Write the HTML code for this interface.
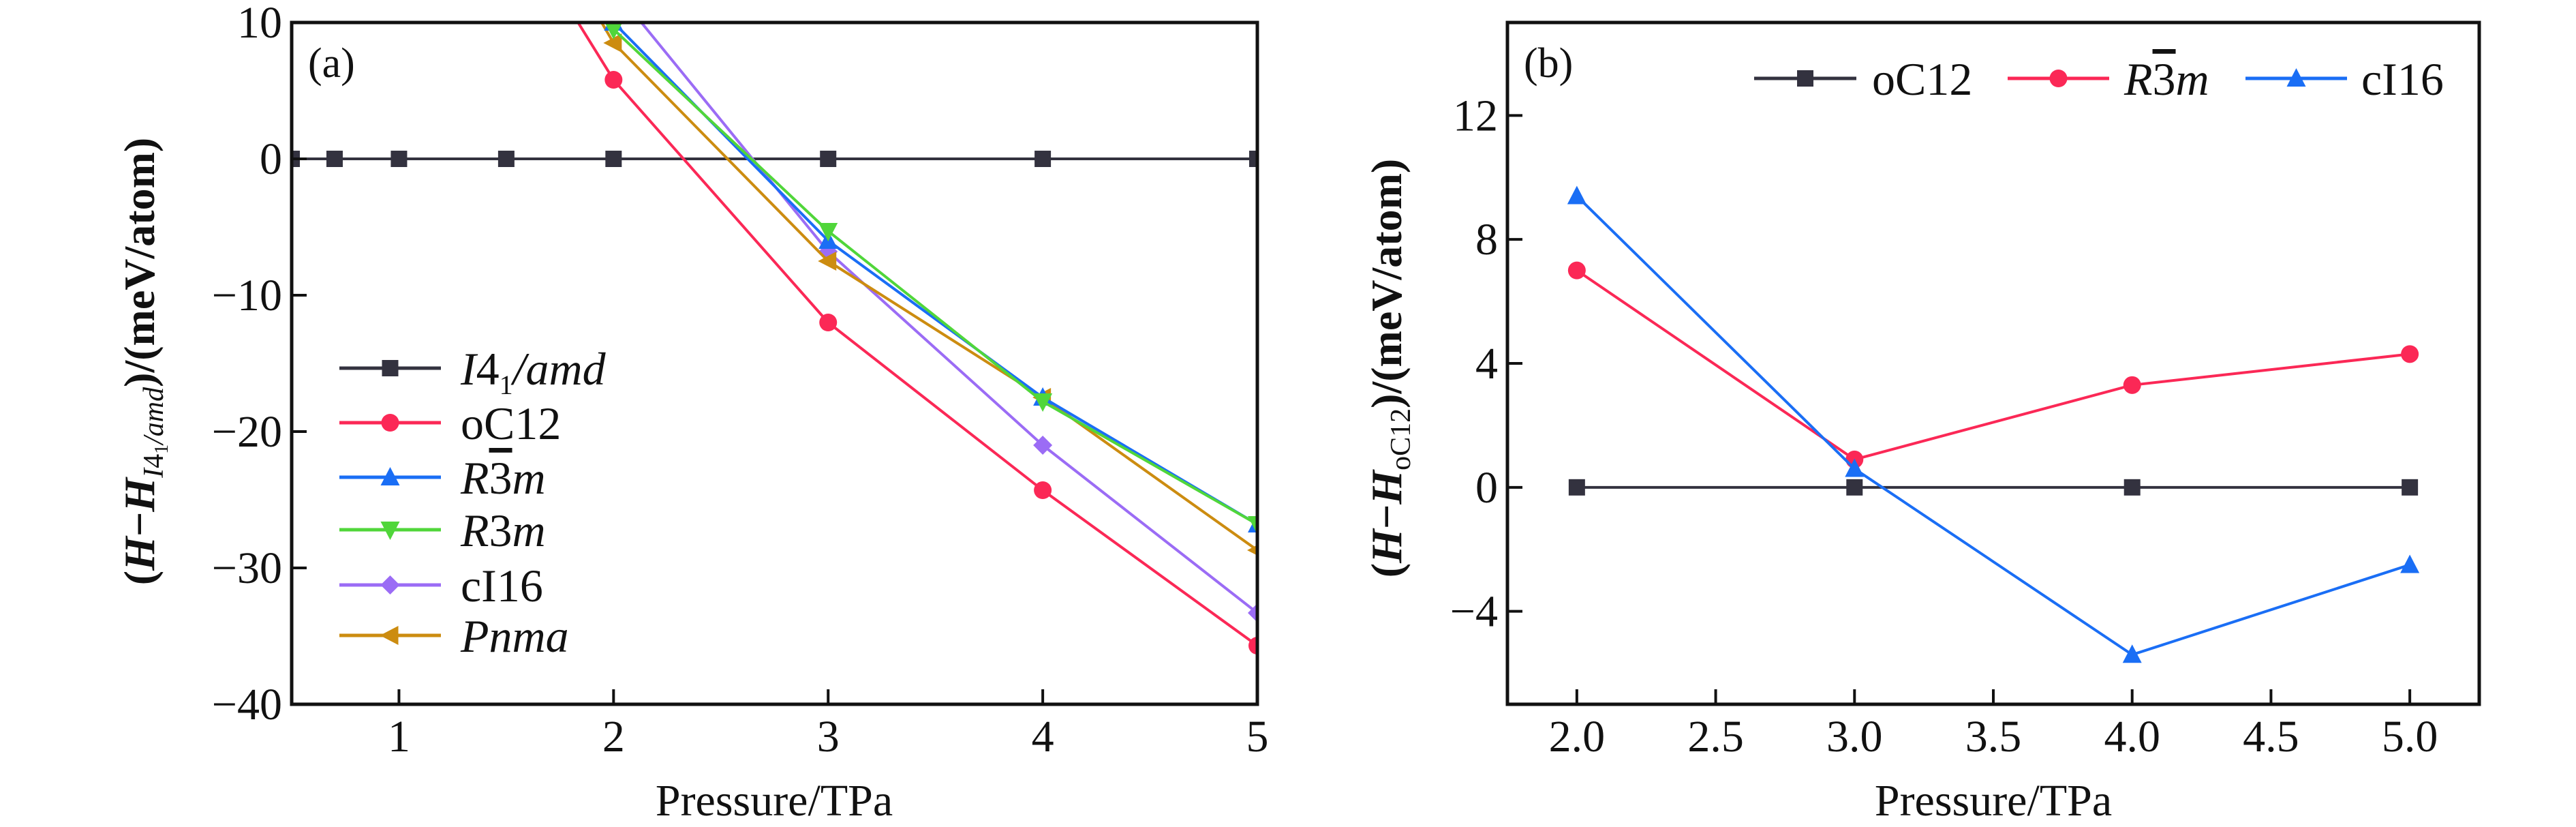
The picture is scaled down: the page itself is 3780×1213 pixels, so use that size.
<!DOCTYPE html>
<html><head><meta charset="utf-8">
<style>
html,body{margin:0;padding:0;background:#fff;}
svg{display:block;font-family:"Liberation Serif",serif;}
</style></head>
<body>
<svg id="fig" width="3780" height="1213" viewBox="0 0 3780 1213" xmlns="http://www.w3.org/2000/svg">
<defs>
<clipPath id="clipA"><rect x="428" y="33" width="1417" height="1000"/></clipPath>
<clipPath id="clipB"><rect x="2212" y="33" width="1426" height="1000"/></clipPath>
</defs>
<g id="panelA"></g>
<g id="panelB"></g>
</svg>
<script>
// ---- Panel (a) data ----
const aI41X = [0.5, 0.7, 1, 1.5, 2, 3, 4, 5];
const aI41Y = [0, 0, 0, 0, 0, 0, 0, 0];
const aX = [1.5, 2, 3, 4, 5];
const aOC12 = [18.5, 5.8, -12.0, -24.3, -35.7];
const aR3barm = [26, 10.0, -6.0, -17.5, -26.8];
const aR3m = [25, 9.5, -5.3, -17.8, -26.8];
const aCI16 = [30, 12.5, -6.8, -21.0, -33.3];
const aPnma = [22, 8.5, -7.5, -17.5, -28.7];
const aXTicks = [1, 2, 3, 4, 5];
const aYTicks = [10, 0, -10, -20, -30, -40];
// ---- Panel (b) data ----
const bX = [2, 3, 4, 5];
const bOC12 = [0, 0, 0, 0];
const bR3barm = [7.0, 0.9, 3.3, 4.3];
const bCI16 = [9.4, 0.6, -5.4, -2.5];
const bXTicks = [2.0, 2.5, 3.0, 3.5, 4.0, 4.5, 5.0];
const bYTicks = [12, 8, 4, 0, -4];

const NS = "http://www.w3.org/2000/svg";
const C = {blk:"#33323f", red:"#fb2856", blue:"#1a6ef5", green:"#50d63a", purple:"#9b6cf5", gold:"#cc8c10"};

function mk(tag, attrs, parent){
  const e = document.createElementNS(NS, tag);
  for (const k in attrs) e.setAttribute(k, attrs[k]);
  if (parent) parent.appendChild(e);
  return e;
}
function marker(g, type, cx, cy, color){
  const s = 12;
  let e;
  if (type === "sq") e = mk("rect", {x:cx-s, y:cy-s, width:2*s, height:2*s, fill:color}, g);
  else if (type === "ci") e = mk("circle", {cx:cx, cy:cy, r:s+1, fill:color}, g);
  else if (type === "up") e = mk("polygon", {points:`${cx},${cy-s-3} ${cx+s+2},${cy+s} ${cx-s-2},${cy+s}`, fill:color}, g);
  else if (type === "dn") e = mk("polygon", {points:`${cx},${cy+s+3} ${cx+s+2},${cy-s} ${cx-s-2},${cy-s}`, fill:color}, g);
  else if (type === "di") e = mk("polygon", {points:`${cx},${cy-s-2} ${cx+s+2},${cy} ${cx},${cy+s+2} ${cx-s-2},${cy}`, fill:color}, g);
  else if (type === "lf") e = mk("polygon", {points:`${cx-s-3},${cy} ${cx+s},${cy-s-2} ${cx+s},${cy+s+2}`, fill:color}, g);
  
  
  return e;
}
function series(g, xs, ys, sx, sy, color, type, name, clip){
  const sg = mk("g", {"clip-path":`url(#${clip})`}, g);
  
  
  const pts = xs.map((x,i)=>`${sx(x)},${sy(ys[i])}`).join(" ");
  const pl = mk("polyline", {points:pts, fill:"none", stroke:color, "stroke-width":4, "stroke-linejoin":"round"}, sg);
  
  
  xs.forEach((x,i)=>marker(sg, type, sx(x), sy(ys[i]), color));
}
function legendEntry(g, x1, x2, y, color, type, name){
  const lg = mk("g", {}, g);
  
  
  mk("line", {x1:x1, x2:x2, y1:y, y2:y, stroke:color, "stroke-width":5}, lg);
  marker(lg, type, (x1+x2)/2, y, color);
  return lg;
}
function axes(g, L, T, R, B, xt, yt, sx, sy, fmtX, fmtY){
  const fr = mk("rect", {x:L, y:T, width:R-L, height:B-T, fill:"none", stroke:"#111", "stroke-width":5}, g);
  
  
  xt.forEach(v=>{
    const x = sx(v);
    mk("line", {x1:x, x2:x, y1:B, y2:B-22, stroke:"#111", "stroke-width":4}, g);
    const t = mk("text", {x:x, y:1102, "font-size":66, "text-anchor":"middle", fill:"#111"}, g);
    t.textContent = fmtX(v);
    
    
  });
  yt.forEach(v=>{
    const y = sy(v);
    mk("line", {x1:L, x2:L+22, y1:y, y2:y, stroke:"#111", "stroke-width":4}, g);
    const t = mk("text", {x:L-14, y:y+22, "font-size":66, "text-anchor":"end", fill:"#111"}, g);
    t.textContent = fmtY(v);
    
    
  });
}
const fmtNeg = v => v < 0 ? "\u2212" + Math.abs(v) : String(v);

// ---- Panel A ----
(function(){
  const g = document.getElementById("panelA");
  const L=428, R=1845, T=33, B=1033;
  const sx = x => L + (x-0.5)/(5-0.5)*(R-L);
  const sy = y => T + (10-y)/(50)*(B-T);
  series(g, aI41X, aI41Y, sx, sy, C.blk, "sq", "series-i41amd", "clipA");
  series(g, aX, aCI16, sx, sy, C.purple, "di", "series-ci16", "clipA");
  series(g, aX, aPnma, sx, sy, C.gold, "lf", "series-pnma", "clipA");
  series(g, aX, aR3barm, sx, sy, C.blue, "up", "series-r3barm", "clipA");
  series(g, aX, aR3m, sx, sy, C.green, "dn", "series-r3m", "clipA");
  series(g, aX, aOC12, sx, sy, C.red, "ci", "series-oc12", "clipA");
  axes(g, L, T, R, B, aXTicks, aYTicks, sx, sy, v=>String(v), fmtNeg);
  const lab = mk("text", {x:452, y:113, "font-size":62, fill:"#111"}, g);
  lab.textContent = "(a)";
  
  
  const xt = mk("text", {x:1136, y:1196, "font-size":66, "text-anchor":"middle", fill:"#111"}, g);
  xt.textContent = "Pressure/TPa";
  
  
  const yt = mk("text", {transform:"translate(226,530) rotate(-90)", "font-size":64, "font-weight":"bold", "text-anchor":"middle", fill:"#111"}, g);
  yt.innerHTML = '(<tspan font-style="italic">H</tspan>\u2212<tspan font-style="italic">H</tspan><tspan font-size="42" dy="13" font-style="italic" font-weight="normal">I</tspan><tspan font-size="42" font-weight="normal">4</tspan><tspan font-size="28" dy="7" font-weight="normal">1</tspan><tspan font-size="42" dy="-7" font-style="italic" font-weight="normal">/amd</tspan><tspan dy="-13">)/(meV/atom)</tspan>';
  
  
  const leg = mk("g", {}, g);
  
  
  const rows = [[540,C.blk,"sq","i41amd"],[620,C.red,"ci","oc12"],[700,C.blue,"up","r3barm"],[777,C.green,"dn","r3m"],[858,C.purple,"di","ci16"],[932,C.gold,"lf","pnma"]];
  rows.forEach(r=>legendEntry(leg, 498, 647, r[0], r[1], r[2], r[3]));
  const txt = [
    '<tspan font-style="italic">I</tspan>4<tspan font-size="40" dy="14">1</tspan><tspan dy="-14" font-style="italic">/amd</tspan>',
    'oC12',
    '<tspan font-style="italic">R</tspan><tspan text-decoration="overline">3</tspan><tspan font-style="italic">m</tspan>',
    '<tspan font-style="italic">R</tspan>3<tspan font-style="italic">m</tspan>',
    'cI16',
    '<tspan font-style="italic">Pnma</tspan>'];
  rows.forEach((r,i)=>{
    const t = mk("text", {x:676, y:r[0]+24, "font-size":68, fill:"#111"}, leg);
    t.innerHTML = txt[i];
    
    
  });
})();

// ---- Panel B ----
(function(){
  const g = document.getElementById("panelB");
  const L=2212, R=3638, T=33, B=1033;
  const sx = x => L + (x-1.75)/(5.25-1.75)*(R-L);
  const sy = y => T + (15-y)/(22)*(B-T);
  series(g, bX, bOC12, sx, sy, C.blk, "sq", "series-oc12-b", "clipB");
  series(g, bX, bR3barm, sx, sy, C.red, "ci", "series-r3barm-b", "clipB");
  series(g, bX, bCI16, sx, sy, C.blue, "up", "series-ci16-b", "clipB");
  axes(g, L, T, R, B, bXTicks, bYTicks, sx, sy, v=>v.toFixed(1), fmtNeg);
  const lab = mk("text", {x:2236, y:113, "font-size":62, fill:"#111"}, g);
  lab.textContent = "(b)";
  
  
  const xt = mk("text", {x:2925, y:1196, "font-size":66, "text-anchor":"middle", fill:"#111"}, g);
  xt.textContent = "Pressure/TPa";
  
  
  const yt = mk("text", {transform:"translate(2056,540) rotate(-90)", "font-size":64, "font-weight":"bold", "text-anchor":"middle", fill:"#111"}, g);
  yt.innerHTML = '(<tspan font-style="italic">H</tspan>\u2212<tspan font-style="italic">H</tspan><tspan font-size="42" dy="13" font-weight="normal">oC12</tspan><tspan dy="-13">)/(meV/atom)</tspan>';
  
  
  const leg = mk("g", {}, g);
  
  
  const ents = [[2574,2724,C.blk,"sq","oc12",2747,'oC12'],
    [2946,3095,C.red,"ci","r3barm",3117,'<tspan font-style="italic">R</tspan><tspan text-decoration="overline">3</tspan><tspan font-style="italic">m</tspan>'],
    [3295,3444,C.blue,"up","ci16",3465,'cI16']];
  ents.forEach(e=>{
    legendEntry(leg, e[0], e[1], 115, e[2], e[3], e[4]);
    const t = mk("text", {x:e[5], y:139, "font-size":68, fill:"#111"}, leg);
    t.innerHTML = e[6];
    
    
  });
})();
</script>
</body></html>
